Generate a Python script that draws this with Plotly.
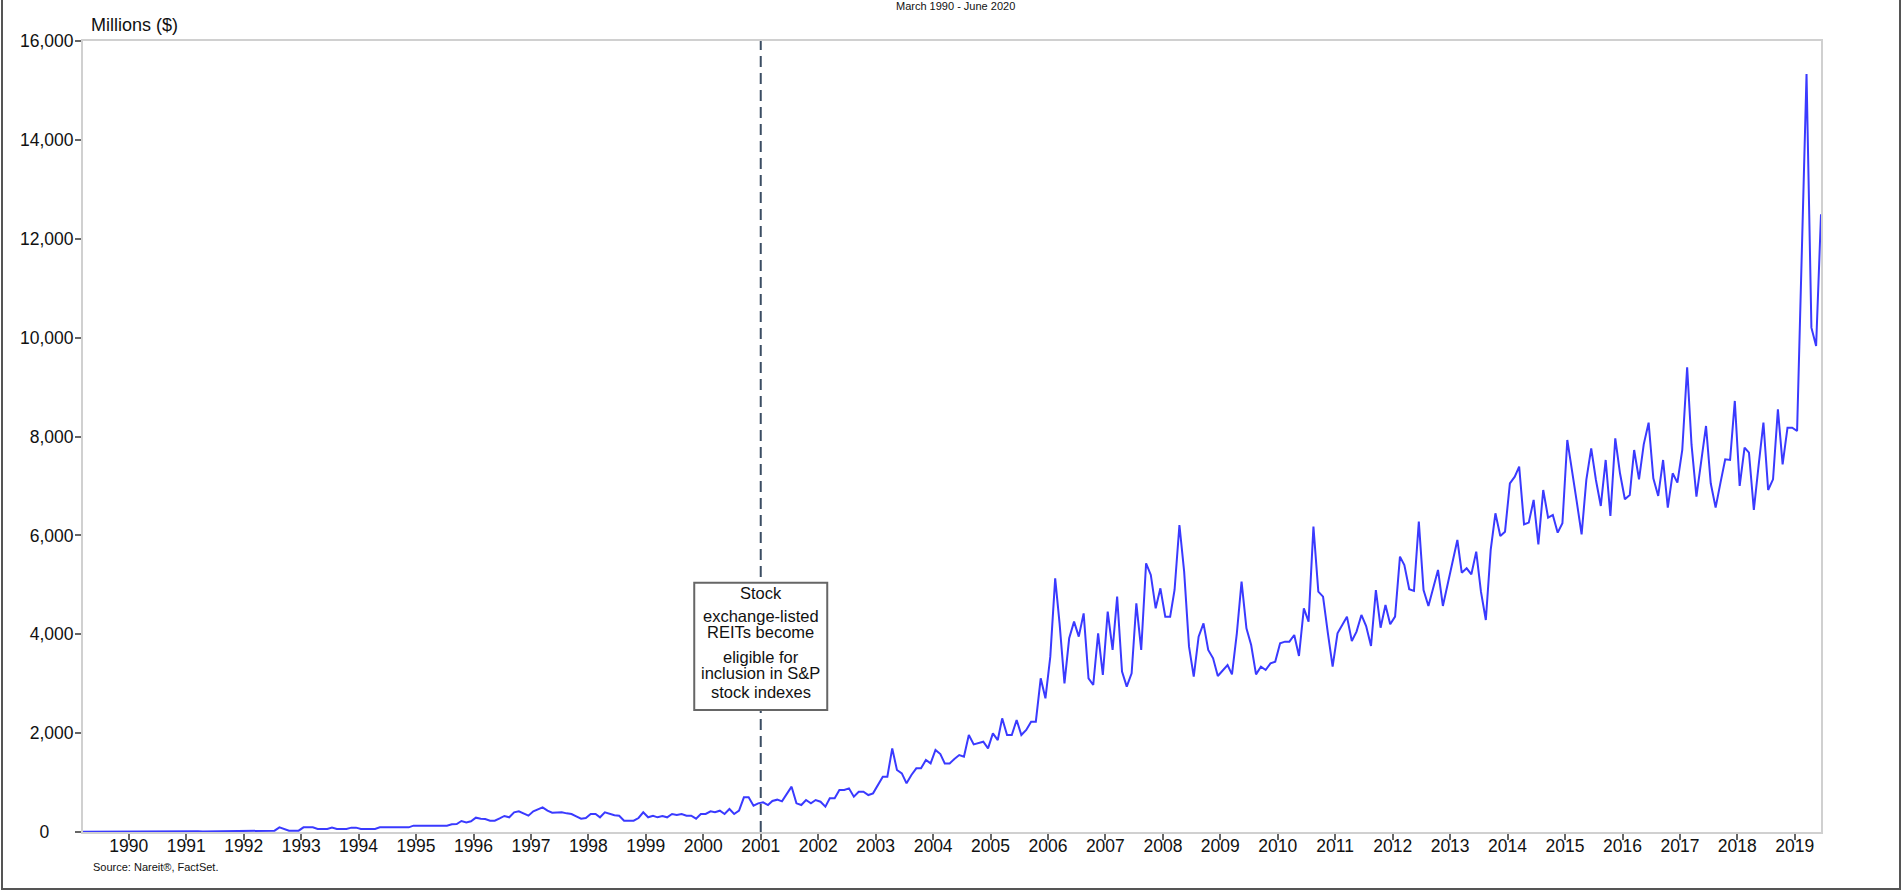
import pandas as pd
import plotly.graph_objects as go

# ---------------- data (monthly, Millions $) ----------------
start_month = "1990-03-01"
n_months = 364

vol_1990s = [  # Mar 1990 - Dec 1999
    4, 5, 5, 6, 5, 6, 7, 6, 7, 8,
    7, 8, 9, 8, 9, 10, 9, 10, 11, 10, 11, 12,
    11, 12, 13, 12, 13, 14, 13, 14, 15, 14, 15, 16,
    27, 27, 27, 27, 27, 27, 27, 94, 60, 27, 27, 27,
    94, 94, 94, 61, 61, 61, 88, 61, 61, 61, 88, 88,
    61, 61, 61, 61, 94, 94, 94, 94, 94, 94, 94, 128,
    128, 128, 128, 128, 128, 128, 128, 155, 162, 222, 195, 216,
    290, 270, 263, 229, 229, 276, 324, 297, 398, 418, 374, 330,
    418, 458, 499, 431, 391, 394, 398, 377, 364, 317, 270, 283,
    364, 364, 297, 398, 364, 340, 330, 229, 229, 229, 283, 398,
]
vol_2000s = [  # Jan 2000 - Dec 2009
    297, 330, 297, 324, 297, 364, 344, 364, 330, 330, 270, 364,
    364, 418, 398, 431, 364, 465, 364, 431, 701, 701, 532, 580,
    600, 546, 627, 654, 620, 762, 917, 580, 546, 647, 580, 647,
    613, 512, 681, 681, 849, 849, 883, 714, 815, 815, 748, 782,
    950, 1119, 1119, 1692, 1254, 1186, 984, 1153, 1287, 1287, 1456, 1388,
    1658, 1577, 1388, 1388, 1476, 1557, 1523, 1961, 1773, 1793, 1827, 1692,
    1995, 1860, 2299, 1962, 1962, 2266, 1962, 2063, 2232, 2232, 3108, 2704,
    3547, 5131, 4221, 3007, 3918, 4255, 3951, 4423, 3108, 2974, 4019, 3176,
    4457, 3682, 4761, 3243, 2940, 3210, 4626, 3682, 5435, 5199, 4525, 4929,
    4356, 4356, 4895, 6210, 5266, 3749, 3142, 3951, 4221, 3682, 3513, 3156,
]
vol_2010s = [  # Jan 2010 - Dec 2019
    3277, 3378, 3189, 4019, 5064, 4120, 3783, 3189, 3344, 3277, 3412, 3446,
    3817, 3850, 3850, 3985, 3560, 4525, 4255, 6177, 4862, 4761, 4019, 3344,
    4019, 4187, 4356, 3864, 4053, 4390, 4167, 3763, 4895, 4133, 4592, 4201,
    4356, 5570, 5401, 4909, 4875, 6278, 4895, 4572, 4963, 5300, 4572, 4997,
    5502, 5907, 5246, 5334, 5212, 5671, 4862, 4289, 5705, 6446, 5988, 6075,
    7053, 7188, 7390, 6224, 6258, 6716, 5819, 6918, 6359, 6413, 6055, 6244,
    7930, 7323, 6682, 6021, 7121, 7761, 7121, 6595, 7525, 6392, 7964, 7256,
    6730, 6817, 7727, 7134, 7842, 8280, 7154, 6797, 7525, 6561, 7256, 7067,
    7727, 9400, 7829, 6783, 7525, 8213, 7053, 6561, 7067, 7539, 7525, 8719,
    6999, 7775, 7674, 6514, 7404, 8280, 6918, 7134, 8550, 7437, 8179, 8179,
]
vol_2020 = [8112, 11600, 15334, 10202, 9831, 12495]  # Jan - Jun 2020

volume = vol_1990s + vol_2000s + vol_2010s + vol_2020
months = pd.date_range(start_month, periods=n_months, freq="MS") + pd.Timedelta(days=14)

tick_years = list(range(1990, 2020))
tick_dates = [f"{y}-12-31" for y in tick_years]
tick_text = [str(y) for y in tick_years]

y_ticks = [0, 2000, 4000, 6000, 8000, 10000, 12000, 14000, 16000]
y_tick_text = ["0" + "\u00a0" * 5, "2,000", "4,000", "6,000", "8,000",
               "10,000", "12,000", "14,000", "16,000"]

event_date = "2001-12-31"
event_lines = ["Stock", "exchange-listed", "REITs become",
               "eligible for", "inclusion in S&P", "stock indexes"]

# ---------------- figure ----------------
FONT = "Liberation Sans, Arial, sans-serif"
W, H = 1902, 891
ML, MR, MT, MB = 83, 81, 41, 59
PW, PH = W - ML - MR, H - MT - MB


def px_x(px):
    return (px - ML) / PW


def px_y(py):
    return (H - MB - py) / PH


fig = go.Figure()
fig.add_trace(go.Scatter(
    x=months, y=volume, mode="lines",
    line=dict(color="#3a3aff", width=2),
    hoverinfo="x+y", showlegend=False,
))

fig.update_layout(
    width=W, height=H, autosize=False,
    margin=dict(l=ML, r=MR, t=MT, b=MB),
    paper_bgcolor="white", plot_bgcolor="white",
    font=dict(family=FONT, color="#111111"),
    showlegend=False,
)

fig.update_xaxes(
    type="date", range=[months[0], months[-1]],
    tickmode="array", tickvals=tick_dates, ticktext=tick_text,
    ticks="outside", ticklen=6, tickwidth=1.5, tickcolor="#666666",
    ticklabelstandoff=-9,
    tickfont=dict(size=17.5, family=FONT, color="#111111"),
    showline=True, linecolor="#d0d0d0", linewidth=2, mirror=True,
    showgrid=False, zeroline=False,
)
fig.update_yaxes(
    range=[0, 16000],
    tickmode="array", tickvals=y_ticks, ticktext=y_tick_text,
    ticks="outside", ticklen=6, tickwidth=1.5, tickcolor="#666666",
    ticklabelstandoff=-2,
    tickfont=dict(size=17.5, family=FONT, color="#111111"),
    showline=True, linecolor="#d0d0d0", linewidth=2, mirror=True,
    showgrid=False, zeroline=False,
)

# vertical dashed event line
fig.add_shape(type="line", xref="x", yref="y",
              x0=event_date, x1=event_date, y0=0, y1=16000,
              line=dict(color="#3b4d63", width=2, dash="11px,6px"))
# annotation box
fig.add_shape(type="rect", xref="x", yref="y", xsizemode="pixel",
              xanchor=event_date, x0=-66.5, x1=66.5, y0=2468, y1=5043,
              line=dict(color="#666666", width=2), fillcolor="white")
line_y = [4840, 4370, 4052, 3546, 3210, 2838]
for txt, yy in zip(event_lines, line_y):
    fig.add_annotation(x=event_date, y=yy, xref="x", yref="y", text=txt,
                       showarrow=False, xanchor="center", yanchor="middle",
                       font=dict(size=16.5, family=FONT, color="#111111"))

# texts around the plot
fig.add_annotation(xref="paper", yref="paper", x=px_x(955), y=px_y(6),
                   text="March 1990 - June 2020", showarrow=False,
                   xanchor="center", yanchor="middle",
                   font=dict(size=11, family=FONT, color="#111111"))
fig.add_annotation(xref="paper", yref="paper", x=px_x(89), y=px_y(25),
                   text="Millions ($)", showarrow=False,
                   xanchor="left", yanchor="middle",
                   font=dict(size=18, family=FONT, color="#111111"))
fig.add_annotation(xref="paper", yref="paper", x=px_x(91), y=px_y(867),
                   text="Source: Nareit®, FactSet.", showarrow=False,
                   xanchor="left", yanchor="middle",
                   font=dict(size=11, family=FONT, color="#111111"))

# outer frame
fig.add_shape(type="rect", xref="paper", yref="paper",
              x0=px_x(2), x1=px_x(1900), y0=px_y(889), y1=px_y(-5),
              line=dict(color="#555555", width=2), fillcolor="rgba(0,0,0,0)")

fig.write_html(
    "out.html",
    config={"displayModeBar": False},
    post_script="document.body.style.margin='0';document.body.style.overflow='hidden';",
)
